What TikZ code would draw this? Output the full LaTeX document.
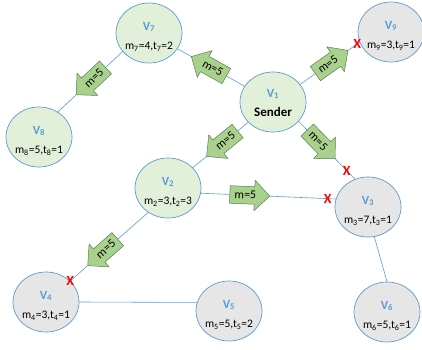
\documentclass[tikz,border=0pt]{standalone}
\usepackage{fontspec}
\setmainfont{Carlito}
\usetikzlibrary{shapes.geometric,shapes.arrows}
\definecolor{nodeblue}{HTML}{5B9BD5}
\definecolor{vgreen}{HTML}{E2F0D9}
\definecolor{vgray}{HTML}{E7E6E6}
\definecolor{arrowgreen}{HTML}{A9D18E}
\definecolor{arrowedge}{HTML}{5E7D4C}
\begin{document}
\begin{tikzpicture}[x=1pt,y=-1pt, line join=round, line cap=round,
    vtx/.style={ellipse, draw=nodeblue, line width=0.7pt, minimum width=66pt, minimum height=60pt, inner sep=0pt},
    grn/.style={vtx, fill=vgreen},
    gry/.style={vtx, fill=vgray},
    vlab/.style={font=\fontsize{12.5}{14}\selectfont\bfseries, text=nodeblue, inner sep=0pt},
    mlab/.style={font=\fontsize{11.5}{13}\selectfont, inner sep=0pt},
    link/.style={draw=nodeblue, line width=0.6pt},
    msg/.style={single arrow, draw=arrowedge, fill=arrowgreen, line width=0.5pt,
        font=\fontsize{12}{14}\selectfont, text height=8pt, text depth=1pt,
        inner ysep=4pt, inner xsep=2pt, single arrow head extend=6.5pt,
        minimum height=40pt, sloped},
    back/.style={shape border rotate=180},
    cross/.style={text=red, font=\fontsize{14}{14}\selectfont\bfseries, inner sep=0pt}]
    \def\vertex#1#2#3#4#5{%
        \node[#3] (#1) at (#2) {};
        \node[vlab] (#1t) at ([yshift=6pt]#1.center) {V\textsubscript{#4}};
        \node[mlab] (#1m) at ([yshift=-14pt]#1.center) {#5};}
    \useasboundingbox (0,0) rectangle (422,349);
    % sender
    \node[grn] (v1) at (273,102) {};
    \node[vlab] (v1t) at ([yshift=8pt]v1.center) {V\textsubscript{1}};
    \node[mlab, font=\fontsize{13}{15}\selectfont\bfseries] (v1m) at ([yshift=-10pt]v1.center) {Sender};
    % other vertices
    \vertex{v7}{149,33}{grn}{7}{m\textsubscript{7}=4,t\textsubscript{7}=2}
    \vertex{v8}{39,137}{grn}{8}{m\textsubscript{8}=5,t\textsubscript{8}=1}
    \vertex{v9}{391,32}{gry}{9}{m\textsubscript{9}=3,t\textsubscript{9}=1}
    \vertex{v2}{168,188}{grn}{2}{m\textsubscript{2}=3,t\textsubscript{2}=3}
    \vertex{v3}{368,207}{gry}{3}{m\textsubscript{3}=7,t\textsubscript{3}=1}
    \vertex{v4}{46,302}{gry}{4}{m\textsubscript{4}=3,t\textsubscript{4}=1}
    \vertex{v5}{229,311}{gry}{5}{m\textsubscript{5}=5,t\textsubscript{5}=2}
    \vertex{v6}{387,312}{gry}{6}{m\textsubscript{6}=5,t\textsubscript{6}=1}
    % links and messages
    \draw[link] (v7) -- node[msg, back, pos=.525] {m=5} (v1);
    \draw[link] (v1.33) -- node[msg, pos=.47] {m=5} node[cross, pos=.96] {X} (v9.198);
    \draw[link] (v2) -- node[msg, back, pos=.59] {m=5} (v1);
    \draw[link] (v1.323) -- node[msg, pos=.345] {m=5} node[cross, pos=.855] {X} (v3.115);
    \draw[link] (v2.351) -- node[msg, pos=.33] {m=5} node[cross, pos=.94] {X} (v3.166);
    \draw[link] (v4.41) -- node[cross, pos=0] {X} node[msg, back, pos=.46] {m=5} (v2.231);
    \draw[link] (v8.53) -- node[msg, back, pos=.56] {m=5} (v7.215);
    \draw[link] (v4.east) -- (v5.165);
    \draw[link] (v3.282) -- (v6.north);
\end{tikzpicture}
\end{document}
